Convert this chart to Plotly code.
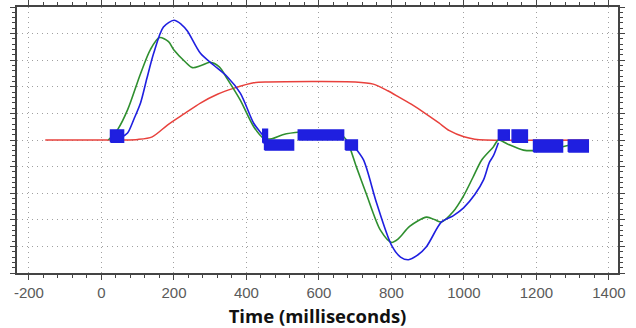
import plotly.graph_objects as go

# ---- data ----
red_x = [-155, 60, 100, 140, 182, 230, 273, 320, 364, 420, 460, 700, 750, 790, 822, 860, 888, 930, 960, 1000, 1030, 1060, 1345]
red_y = [0, 0, 0.02, 0.12, 0.56, 1.0, 1.39, 1.72, 1.94, 2.15, 2.18, 2.18, 2.1, 1.85, 1.6, 1.3, 1.05, 0.65, 0.35, 0.12, 0.03, 0, 0]

green_x = [19, 45, 72, 108, 135, 160, 185, 200, 230, 251, 275, 300, 325, 347, 383, 420, 447, 470, 500, 549, 620, 655,
           676, 703, 730, 770, 800, 820, 850, 897, 920, 938, 970, 999, 1025, 1049, 1081, 1095, 1120, 1164, 1220, 1260, 1291, 1345]
green_y = [0, 0.4, 1.13, 2.5, 3.4, 3.85, 3.7, 3.38, 2.95, 2.72, 2.8, 2.92, 2.75, 2.3, 1.5, 0.5, 0.07, 0.05, 0.2, 0.3, 0.32, 0.25,
           0, -1.0, -2.0, -3.4, -3.85, -3.7, -3.25, -2.9, -3.0, -3.08, -2.7, -2.1, -1.4, -0.75, -0.26, 0, -0.15, -0.38, -0.38, -0.3, -0.2, -0.2]

blue_rise_x = [55, 72, 90, 108, 125, 144, 171, 200, 220, 237, 273, 309, 347, 383, 420, 438, 450]
blue_rise_y = [0.1, 0.26, 0.8, 1.4, 2.3, 3.26, 4.25, 4.5, 4.35, 4.1, 3.26, 2.82, 2.38, 1.76, 0.63, 0.3, 0.1]

blue_dip_x = [700, 723, 759, 800, 825, 847, 870, 897, 938, 970, 999, 1030, 1054, 1070, 1081, 1095]
blue_dip_y = [-0.3, -0.75, -2.37, -3.95, -4.4, -4.5, -4.35, -4.0, -3.08, -2.85, -2.55, -2.05, -1.5, -0.85, -0.6, -0.1]

# noisy blue blocks: start, end, low, high
block_x0 = [25, 445, 450, 543, 673, 1095, 1133, 1192, 1288]
block_x1 = [61, 458, 530, 668, 706, 1125, 1175, 1272, 1343]
block_lo = [-0.08, -0.1, -0.38, 0.0, -0.38, 0.0, -0.08, -0.45, -0.45]
block_hi = [0.38, 0.4, 0.0, 0.38, 0.0, 0.38, 0.38, 0.0, 0.0]

x_ticks = [-200, 0, 200, 400, 600, 800, 1000, 1200, 1400]

BLUE = "#1f1fe0"
GREEN = "#2f8f2f"
RED = "#e8413c"

fig = go.Figure()

fig.add_trace(go.Scatter(x=red_x, y=red_y, mode="lines", line=dict(color=RED, width=1.5, shape="spline", smoothing=0.8),
                         hoverinfo="skip", showlegend=False))
fig.add_trace(go.Scatter(x=green_x, y=green_y, mode="lines", line=dict(color=GREEN, width=1.6, shape="spline", smoothing=0.8),
                         hoverinfo="skip", showlegend=False))
for bx, by in [(blue_rise_x, blue_rise_y), (blue_dip_x, blue_dip_y)]:
    fig.add_trace(go.Scatter(x=bx, y=by, mode="lines", line=dict(color=BLUE, width=1.6, shape="spline", smoothing=0.8),
                             hoverinfo="skip", showlegend=False))
for x0, x1, lo, hi in zip(block_x0, block_x1, block_lo, block_hi):
    fig.add_trace(go.Scatter(x=[x0, x1, x1, x0, x0], y=[lo, lo, hi, hi, lo], mode="lines", fill="toself",
                             fillcolor=BLUE, line=dict(color=BLUE, width=1.5), hoverinfo="skip", showlegend=False))

fig.update_layout(
    width=636, height=328,
    margin=dict(l=17, r=18, t=7, b=55, autoexpand=False),
    paper_bgcolor="white", plot_bgcolor="white",
    showlegend=False,
    xaxis=dict(
        range=[-233, 1425], tickvals=x_ticks, ticktext=[str(v) for v in x_ticks], automargin=False,
        showgrid=True, gridcolor="#a0a0a0", griddash="1px,4px", gridwidth=1.3,
        zeroline=False, showline=True, linecolor="#444444", linewidth=1.5, mirror="ticks",
        ticks="outside", ticklen=5, tickcolor="#444444", tickwidth=1.2,
        minor=dict(dtick=40, tick0=0, ticks="outside", ticklen=3, tickcolor="#444444", showgrid=False),
        tickfont=dict(family="Liberation Sans, Arial", size=15, color="#5a5a5a"),
        title=dict(text="<b>Time (milliseconds)</b>", font=dict(family="Open Sans", size=18.5, color="#111111"), standoff=11),
    ),
    yaxis=dict(
        range=[-5, 5], dtick=1, tick0=0, showticklabels=False, automargin=False,
        showgrid=True, gridcolor="#a0a0a0", griddash="1px,4px", gridwidth=1.3,
        zeroline=False, showline=True, linecolor="#444444", linewidth=1.5, mirror="ticks",
        ticks="outside", ticklen=5, tickcolor="#444444", tickwidth=1.2,
        minor=dict(dtick=0.2, ticks="outside", ticklen=3, tickcolor="#444444", showgrid=False),
    ),
)

fig.write_html("out.html", config={"displayModeBar": False},
               post_script="document.body.style.margin='0';")
